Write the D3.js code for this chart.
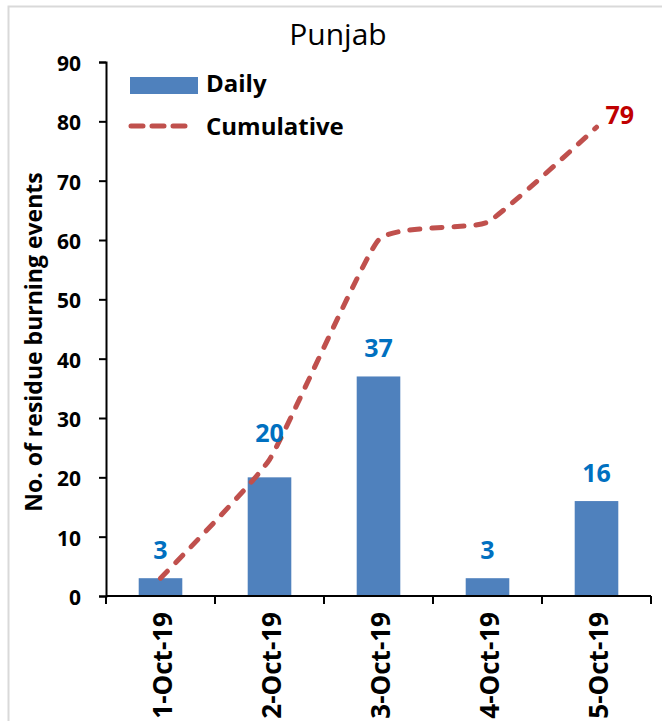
<!DOCTYPE html>
<html>
<head>
<meta charset="utf-8">
<script src="https://cdn.jsdelivr.net/npm/d3@7"></script>
<style>
  html, body { margin: 0; padding: 0; background: #fff; }
  svg { display: block; font-family: "Open Sans", "Lato", sans-serif; }
</style>
</head>
<body>
<div id="chart"></div>
<script>
// data
const dates = ["1-Oct-19", "2-Oct-19", "3-Oct-19", "4-Oct-19", "5-Oct-19"];
const daily = [3, 20, 37, 3, 16];
const cumulative = [3, 23, 60, 63, 79];
const yTicks = [0, 10, 20, 30, 40, 50, 60, 70, 80, 90];

const width = 662, height = 721;
const margin = { top: 62, right: 11, bottom: 125, left: 106 };

const svg = d3.select("#chart").append("svg")
    .attr("width", width)
    .attr("height", height);

// chart area border (light gray, cropped at right/bottom)
svg.append("rect")
    .attr("x", 8.5).attr("y", 6.5)
    .attr("width", width + 20).attr("height", height + 20)
    .attr("fill", "none")
    .attr("stroke", "#d9d9d9")
    .attr("stroke-width", 2);

const x = d3.scaleBand()
    .domain(dates)
    .range([margin.left, width - margin.right])
    .paddingInner(0.6)
    .paddingOuter(0.3);

const y = d3.scaleLinear()
    .domain([0, 90])
    .range([height - margin.bottom, margin.top]);

const cx = i => x(dates[i]) + x.bandwidth() / 2;

// title
svg.append("text")
    .attr("x", 338).attr("y", 45)
    .attr("text-anchor", "middle")
    .style("font-size", "30px")
    .text("Punjab");

// bars
svg.append("g").selectAll("rect")
    .data(daily)
    .join("rect")
    .attr("x", (d, i) => x(dates[i]))
    .attr("y", d => y(d))
    .attr("width", x.bandwidth())
    .attr("height", d => y(0) - y(d))
    .attr("fill", "#4f81bd");

// y axis
const yAxis = svg.append("g")
    .attr("transform", `translate(${margin.left},0)`)
    .call(d3.axisLeft(y).tickValues(yTicks).tickSize(7).tickPadding(18));
yAxis.select(".domain").attr("stroke", "#000").attr("stroke-width", 2);
yAxis.selectAll(".tick line").attr("stroke", "#000").attr("stroke-width", 2);
yAxis.selectAll(".tick text")
    .attr("dy", "0.4em")
    .style("font-size", "21px").style("font-weight", "bold")
    .style("font-family", "'Open Sans', sans-serif")
    .attr("fill", "#000");

// x axis: tick marks between categories
const xEdges = d3.range(dates.length + 1).map(i => margin.left + i * (width - margin.left - margin.right) / dates.length);
const xAxisG = svg.append("g");
xAxisG.append("line")
    .attr("x1", margin.left).attr("x2", width - margin.right)
    .attr("y1", y(0)).attr("y2", y(0))
    .attr("stroke", "#000").attr("stroke-width", 2);
xAxisG.selectAll("line.tick")
    .data(xEdges)
    .join("line")
    .attr("class", "tick")
    .attr("x1", d => d).attr("x2", d => d)
    .attr("y1", y(0)).attr("y2", y(0) + 8)
    .attr("stroke", "#000").attr("stroke-width", 2);
xAxisG.selectAll("text")
    .data(dates)
    .join("text")
    .attr("transform", (d, i) => `translate(${cx(i) + 11.5},${y(0) + 16}) rotate(-90)`)
    .attr("text-anchor", "end")
    .style("font-size", "26px").style("font-weight", "bold")
    .text(d => d);

// y axis title
svg.append("text")
    .attr("transform", `translate(42,342) rotate(-90)`)
    .attr("text-anchor", "middle")
    .style("font-size", "23px").style("font-weight", "bold")
    .text("No. of residue burning events");

// cumulative line (smoothed, dashed)
const line = d3.line()
    .x((d, i) => cx(i))
    .y(d => y(d))
    .curve(d3.curveCardinal.tension(0.6));

svg.append("path")
    .datum(cumulative)
    .attr("d", line)
    .attr("fill", "none")
    .attr("stroke", "#c0504d")
    .attr("stroke-width", 5)
    .attr("stroke-dasharray", "10,12")
    .attr("stroke-linecap", "round");

// daily value labels
svg.append("g").selectAll("text")
    .data(daily)
    .join("text")
    .attr("x", (d, i) => cx(i))
    .attr("y", (d, i) => y(d) - (i === 1 ? 35 : 19))
    .attr("text-anchor", "middle")
    .attr("fill", "#0070c0")
    .style("font-size", "25px").style("font-weight", "bold")
    .text(d => d);

// last cumulative label
const last = cumulative.length - 1;
svg.append("text")
    .attr("x", cx(last) + 9)
    .attr("y", y(cumulative[last]) - 3)
    .attr("fill", "#c00000")
    .style("font-size", "25px").style("font-weight", "bold")
    .text(cumulative[last]);

// legend
const legend = svg.append("g");
legend.append("rect")
    .attr("x", 130).attr("y", 77)
    .attr("width", 68).attr("height", 17)
    .attr("fill", "#4f81bd");
legend.append("text")
    .attr("x", 206).attr("y", 92)
    .style("font-size", "24px").style("font-weight", "bold")
    .text("Daily");
legend.append("line")
    .attr("x1", 131).attr("x2", 189)
    .attr("y1", 126).attr("y2", 126)
    .attr("stroke", "#c0504d")
    .attr("stroke-width", 5)
    .attr("stroke-dasharray", "12,9")
    .attr("stroke-linecap", "round");
legend.append("text")
    .attr("x", 206).attr("y", 135)
    .style("font-size", "24px").style("font-weight", "bold")
    .text("Cumulative");
</script>
</body>
</html>
